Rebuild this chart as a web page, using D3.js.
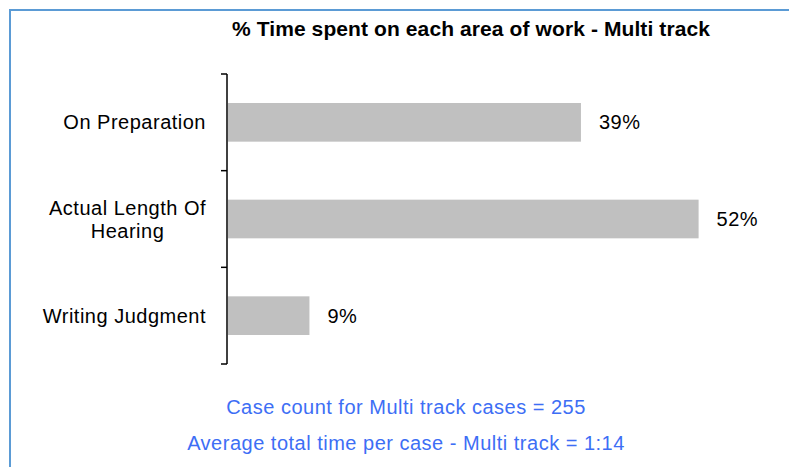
<!DOCTYPE html>
<html>
<head>
<meta charset="utf-8">
<script src="https://cdn.jsdelivr.net/npm/d3@7"></script>
<style>
  body { margin: 0; background: #fff; }
  text { font-family: "Liberation Sans", Arial, sans-serif; }
</style>
</head>
<body>
<svg id="chart"></svg>
<script>
// chart data
const categories = ["On Preparation", "Actual Length Of Hearing", "Writing Judgment"];
const categoryLines = [["On Preparation"], ["Actual Length Of", "Hearing"], ["Writing Judgment"]];
const values = [39, 52, 9];
const titleText = "% Time spent on each area of work - Multi track";
const footerLines = ["Case count for Multi track cases = 255", "Average total time per case - Multi track = 1:14"];

const width = 789, height = 467;
const margin = { top: 74, left: 228, bottom: 103 };
const fontSize = 20;

const svg = d3.select("#chart").attr("width", width).attr("height", height);

// outer frame (top and left edges visible)
svg.append("path")
  .attr("d", `M10,${height} L10,10 L${width},10`)
  .attr("fill", "none")
  .attr("stroke", "#5b9bd5")
  .attr("stroke-width", 2);

svg.append("text")
  .attr("x", 471)
  .attr("y", 36)
  .attr("text-anchor", "middle")
  .attr("font-weight", "bold")
  .attr("font-size", 21)
  .style("letter-spacing", "0.1px")
  .text(titleText);

const xScale = d3.scaleLinear().domain([0, 10]).range([0, 90.5]);

const yScale = d3.scaleBand()
  .domain(categories)
  .range([margin.top, height - margin.bottom])
  .paddingInner(0.6)
  .paddingOuter(0.3);

const g = svg.append("g");

// bars
g.selectAll(".bar")
  .data(values)
  .join("rect")
  .attr("class", "bar")
  .attr("x", margin.left)
  .attr("y", (d, i) => yScale(categories[i]))
  .attr("width", d => xScale(d))
  .attr("height", yScale.bandwidth())
  .attr("fill", "#c0c0c0");

// value labels
g.selectAll(".val")
  .data(values)
  .join("text")
  .attr("class", "val")
  .attr("x", d => margin.left + xScale(d) + 18)
  .attr("y", (d, i) => yScale(categories[i]) + yScale.bandwidth() / 2)
  .attr("dy", "0.35em")
  .attr("font-size", fontSize)
  .style("letter-spacing", "0.5px")
  .attr("fill", "#000")
  .text(d => d + "%");

// y axis with ticks between categories
const axisTop = margin.top, axisBottom = height - margin.bottom;
const axis = svg.append("g").attr("stroke", "#000").attr("stroke-width", 1.5);
axis.append("line")
  .attr("x1", margin.left - 1).attr("x2", margin.left - 1)
  .attr("y1", axisTop).attr("y2", axisBottom);
const tickYs = d3.range(categories.length + 1).map(i => axisTop + (axisBottom - axisTop) * i / categories.length);
axis.selectAll(".tick")
  .data(tickYs)
  .join("line")
  .attr("x1", margin.left - 7).attr("x2", margin.left - 1)
  .attr("y1", d => d).attr("y2", d => d);

// category labels, right aligned block, lines centered in block
categoryLines.forEach((lines, i) => {
  const cy = yScale(categories[i]) + yScale.bandwidth() / 2;
  const lh = 23;
  const tg = svg.append("g");
  const texts = lines.map((ln, j) => tg.append("text")
    .attr("y", cy + (j - (lines.length - 1) / 2) * lh)
    .attr("dy", "0.35em")
    .attr("font-size", fontSize)
    .style("letter-spacing", "0.5px")
    .attr("text-anchor", "middle")
    .text(ln));
  const maxW = d3.max(texts, t => t.node().getComputedTextLength());
  texts.forEach(t => t.attr("x", 206 - maxW / 2));
});

// footer notes
svg.selectAll(".foot")
  .data(footerLines)
  .join("text")
  .attr("class", "foot")
  .attr("x", 406)
  .attr("y", (d, i) => 414 + i * 36)
  .attr("text-anchor", "middle")
  .attr("font-size", fontSize)
  .style("letter-spacing", "0.5px")
  .attr("fill", "#3d6ef5")
  .text(d => d);
</script>
</body>
</html>
